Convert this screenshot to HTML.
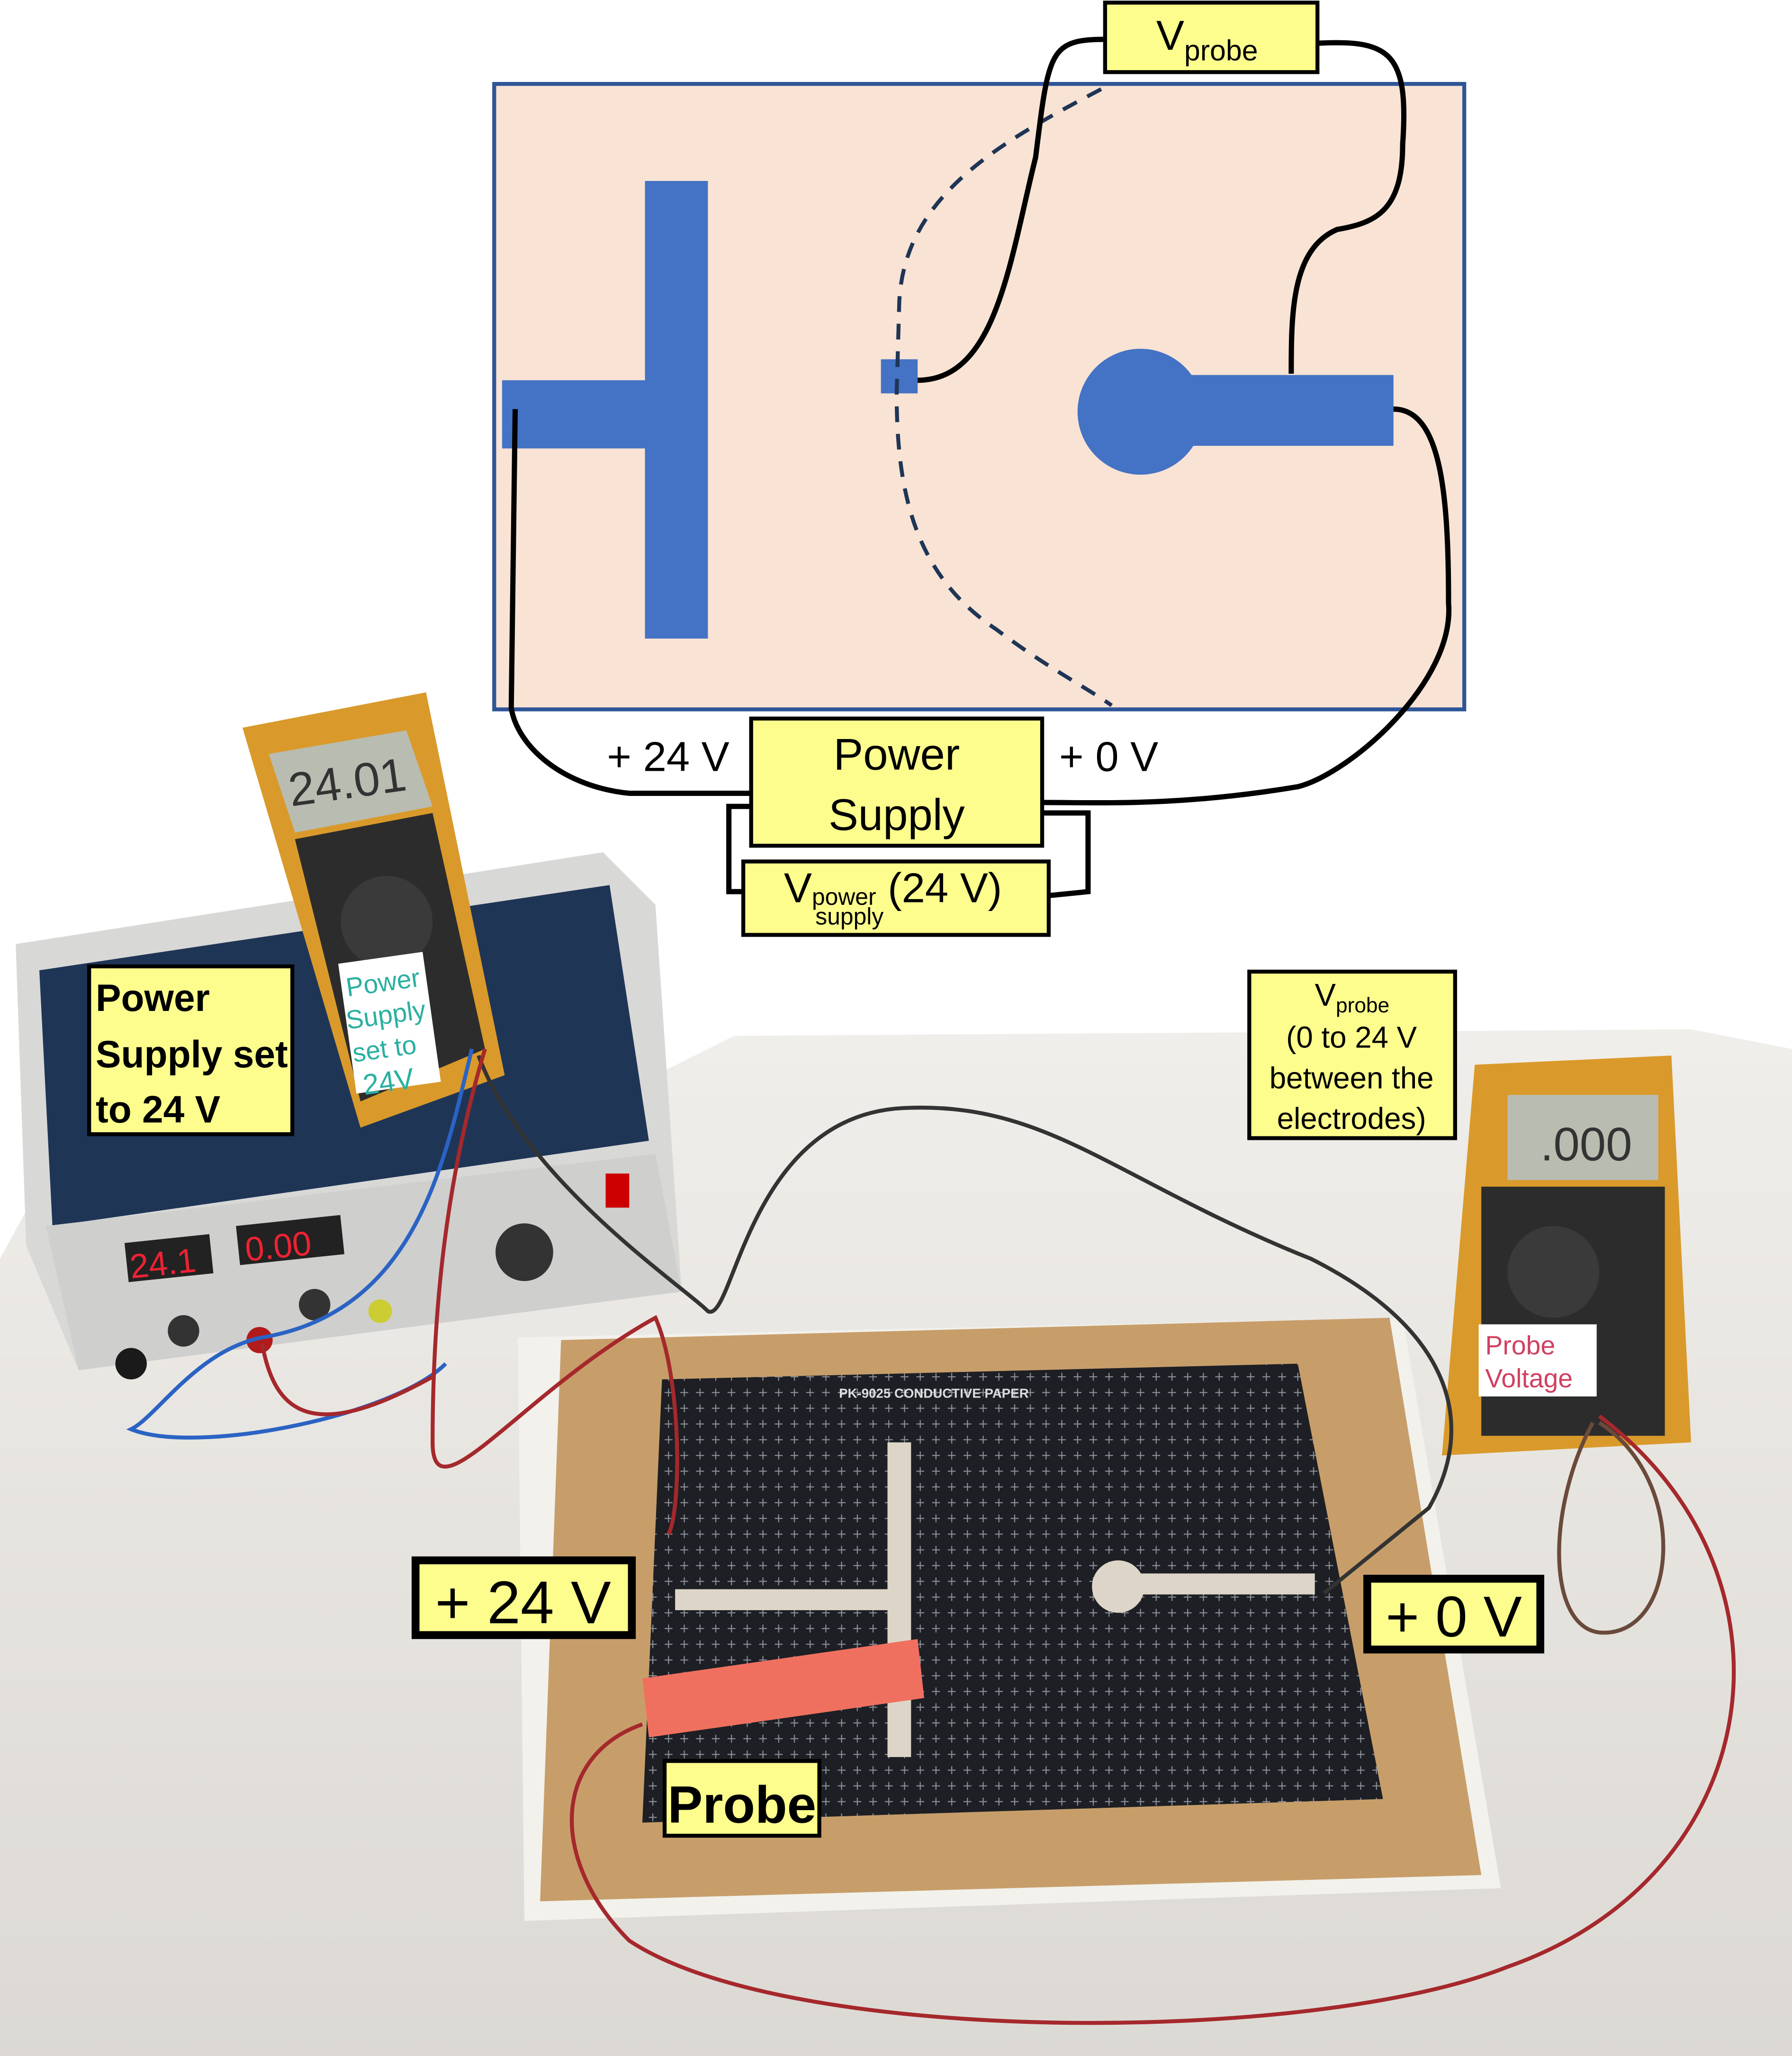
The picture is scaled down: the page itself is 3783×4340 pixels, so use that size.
<!DOCTYPE html>
<html><head><meta charset="utf-8"><style>
html,body{margin:0;padding:0;background:#fff;}
svg{display:block;}
text{font-family:"Liberation Sans",sans-serif;}
</style></head><body>
<svg width="3783" height="4340" viewBox="0 0 1367 1568" preserveAspectRatio="none" xmlns="http://www.w3.org/2000/svg">
<defs>
<linearGradient id="tbl" x1="0" y1="0" x2="0" y2="1">
<stop offset="0" stop-color="#f0eeea"/><stop offset="1" stop-color="#dcd9d4"/></linearGradient>
<pattern id="grid" width="12" height="12" patternUnits="userSpaceOnUse">
<rect width="12" height="12" fill="#1d1f24"/><path d="M6 3v6M3 6h6" stroke="#8a8f98" stroke-width="0.8"/></pattern>
</defs>
<rect width="1367" height="1568" fill="#fff"/>
<!-- table -->
<polygon points="0,960 60,850 500,820 560,790 1290,785 1367,800 1367,1568 0,1568" fill="url(#tbl)"/>
<!-- power supply -->
<polygon points="12,720 460,650 500,690 520,985 60,1045 20,950" fill="#d8d8d6"/>
<polygon points="30,740 465,675 495,870 40,935" fill="#1f3556"/>
<polygon points="35,935 500,880 520,985 60,1045" fill="#cfcfcd"/>
<rect x="95" y="948" width="65" height="30" fill="#222" transform="rotate(-6 95 948)"/>
<text x="100" y="975" fill="#e23" font-size="26" transform="rotate(-6 100 975)">24.1</text>
<rect x="180" y="935" width="80" height="30" fill="#222" transform="rotate(-6 180 935)"/>
<text x="188" y="962" fill="#e23" font-size="26" transform="rotate(-6 188 962)">0.00</text>
<circle cx="100" cy="1040" r="12" fill="#1a1a1a"/><circle cx="198" cy="1022" r="10" fill="#b21b1b"/>
<circle cx="140" cy="1015" r="12" fill="#333"/><circle cx="240" cy="995" r="12" fill="#333"/>
<circle cx="400" cy="955" r="22" fill="#333"/><circle cx="290" cy="1000" r="9" fill="#cc3"/>
<rect x="462" y="895" width="18" height="26" fill="#c00"/>
<!-- multimeter left -->
<polygon points="185,555 325,528 385,820 275,860" fill="#d99a2b"/>
<polygon points="205,575 310,557 330,615 225,635" fill="#b9bcb0"/>
<text x="222" y="615" font-size="36" fill="#333" transform="rotate(-8 222 615)">24.01</text>
<polygon points="225,640 330,620 370,800 275,840" fill="#2c2c2c"/>
<circle cx="295" cy="703" r="35" fill="#3a3a3a"/>
<rect x="258" y="735" width="65" height="100" fill="#fff" transform="rotate(-8 258 735)"/>
<text x="265" y="760" font-size="20" fill="#2ab0a0" transform="rotate(-8 265 760)">Power</text>
<text x="265" y="785" font-size="20" fill="#2ab0a0" transform="rotate(-8 265 785)">Supply</text>
<text x="270" y="810" font-size="20" fill="#2ab0a0" transform="rotate(-8 270 810)">set to</text>
<text x="278" y="835" font-size="22" fill="#2ab0a0" transform="rotate(-8 278 835)">24V</text>
<!-- board -->
<polygon points="395,1020 1070,1005 1145,1440 400,1465" fill="#f2f1ec"/>
<polygon points="428,1022 1060,1005 1130,1430 412,1450" fill="#c79e6a"/>
<polygon points="505,1052 990,1040 1055,1372 490,1390" fill="url(#grid)"/>
<text x="640" y="1066" fill="#ddd" font-size="10" font-weight="bold">PK-9025 CONDUCTIVE PAPER</text>
<rect x="677" y="1100" width="18" height="240" fill="#ddd6c8"/>
<rect x="515" y="1212" width="175" height="16" fill="#ddd6c8"/>
<circle cx="853" cy="1210" r="20" fill="#ddd6c8"/><rect x="853" y="1200" width="150" height="16" fill="#ddd6c8"/>
<polygon points="490,1280 700,1250 705,1295 495,1325" fill="#f07060"/>
<!-- multimeter right -->
<polygon points="1125,812 1275,805 1290,1100 1100,1110" fill="#d99a2b"/>
<rect x="1150" y="835" width="115" height="65" fill="#b9bcb0"/>
<text x="1175" y="885" font-size="36" fill="#333">.000</text>
<rect x="1130" y="905" width="140" height="190" fill="#2c2c2c"/>
<circle cx="1185" cy="970" r="35" fill="#3a3a3a"/>
<rect x="1128" y="1010" width="90" height="55" fill="#fff"/>
<text x="1133" y="1033" font-size="20" fill="#d04060">Probe</text>
<text x="1133" y="1058" font-size="20" fill="#d04060">Voltage</text>
<!-- photo wires -->
<path d="M365 805 C400 900 520 980 540 1000 C560 1010 570 850 690 845 C800 840 850 900 1000 960 C1100 1010 1130 1080 1090 1150 L1010 1215" fill="none" stroke="#333" stroke-width="3"/>
<path d="M360 800 C340 880 320 1000 200 1020 C150 1030 120 1080 100 1090 C150 1110 300 1080 340 1040" fill="none" stroke="#2b63c4" stroke-width="3"/>
<path d="M370 800 C340 900 330 1000 330 1100 C330 1160 400 1060 500 1005 C520 1050 520 1150 510 1170 M200 1025 C210 1080 240 1100 330 1050" fill="none" stroke="#a5282c" stroke-width="3"/>
<path d="M490 1315 C420 1340 420 1420 480 1480 C600 1560 1000 1560 1150 1500 C1350 1430 1380 1200 1220 1080" fill="none" stroke="#a5282c" stroke-width="3"/>
<path d="M1215 1085 C1180 1150 1180 1240 1220 1245 C1280 1250 1290 1130 1220 1085" fill="none" stroke="#6a4a3a" stroke-width="3"/>
<!-- diagram -->
<rect x="377" y="64" width="740" height="477" fill="#f8e3d5" stroke="#2f5597" stroke-width="3"/>
<rect x="492" y="138" width="48" height="349" fill="#4472c4"/>
<rect x="383" y="290" width="110" height="52" fill="#4472c4"/>
<circle cx="870" cy="314" r="48" fill="#4472c4"/>
<rect x="870" y="286" width="193" height="54" fill="#4472c4"/>
<rect x="672" y="274" width="28" height="26" fill="#4472c4"/>
<path d="M840 68 C760 110 690 150 686 230 L684 300 C684 380 700 440 760 480 C800 510 830 525 848 538" fill="none" stroke="#1f3556" stroke-width="3" stroke-dasharray="12,9"/>
<path d="M700 290 C760 290 770 200 790 120 C800 40 800 30 843 30 M1005 33 C1060 30 1075 40 1070 110 C1070 160 1050 170 1020 175 C985 190 985 240 985 285 M1063 312 C1100 312 1105 380 1105 460 C1110 520 1030 590 990 600 C900 615 840 612 795 612 M393 312 L390 540 C395 570 430 600 480 605 L573 605 M573 615 L556 615 L556 680 L567 680 M795 620 L830 620 L830 680 L800 683" fill="none" stroke="#000" stroke-width="4"/>
<!-- labels -->
<g stroke="#000" stroke-width="3" fill="#fdfd8d">
<rect x="843" y="2" width="162" height="53"/>
<rect x="573" y="548" width="222" height="97"/>
<rect x="567" y="657" width="233" height="56"/>
<rect x="68" y="737" width="155" height="128"/>
<rect x="953" y="741" width="157" height="127"/>
<rect x="317" y="1190" width="165" height="57" stroke-width="6"/>
<rect x="1043" y="1204" width="132" height="54" stroke-width="6"/>
<rect x="507" y="1343" width="118" height="57"/>
</g>
<text x="882" y="38" font-size="32">V<tspan font-size="22" dy="8">probe</tspan></text>
<text x="684" y="587" font-size="34" text-anchor="middle">Power</text>
<text x="684" y="633" font-size="34" text-anchor="middle">Supply</text>
<text x="598" y="688" font-size="32">V<tspan font-size="18" dy="2">power</tspan><tspan font-size="32" dy="-2"> (24 V)</tspan></text>
<text x="622" y="705" font-size="18">supply</text>
<text x="463" y="588" font-size="32">+ 24 V</text>
<text x="808" y="588" font-size="32">+ 0 V</text>
<text x="73" y="771" font-size="29" font-weight="bold">Power</text>
<text x="73" y="814" font-size="29" font-weight="bold">Supply set</text>
<text x="73" y="856" font-size="29" font-weight="bold">to 24 V</text>
<text x="1003" y="767" font-size="24">V<tspan font-size="16" dy="5">probe</tspan></text>
<text x="1031" y="799" font-size="23" text-anchor="middle">(0 to 24 V</text>
<text x="1031" y="830" font-size="23" text-anchor="middle">between the</text>
<text x="1031" y="861" font-size="23" text-anchor="middle">electrodes)</text>
<text x="399" y="1238" font-size="46" text-anchor="middle">+ 24 V</text>
<text x="1109" y="1248" font-size="44" text-anchor="middle">+ 0 V</text>
<text x="566" y="1390" font-size="40" font-weight="bold" text-anchor="middle">Probe</text>
</svg>
</body></html>
